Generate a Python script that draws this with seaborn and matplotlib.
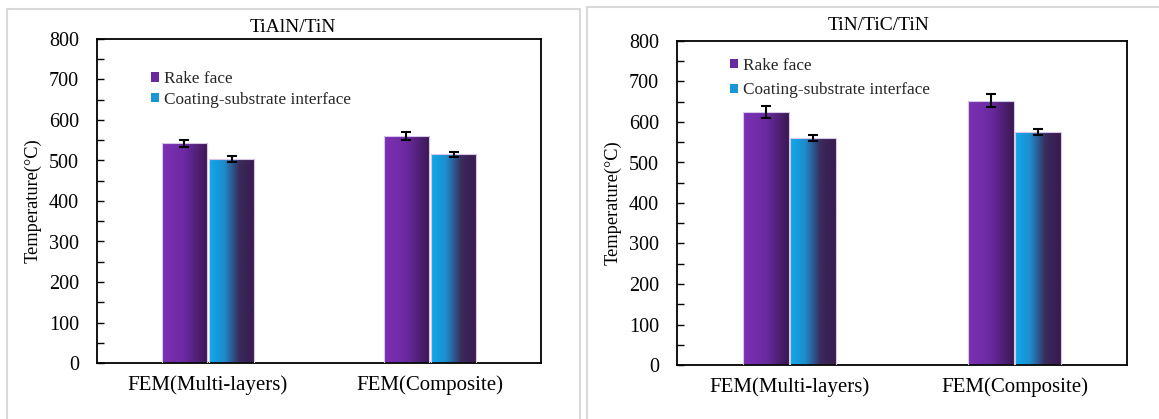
import numpy as np
import pandas as pd
import matplotlib
matplotlib.use("Agg")
import matplotlib.pyplot as plt
import seaborn as sns
from matplotlib.colors import LinearSegmentedColormap
from matplotlib.patches import Rectangle
from matplotlib.ticker import MultipleLocator

# ---------------- data ----------------
methods = ["FEM(Multi-layers)", "FEM(Composite)"]
series = ["Rake face", "Coating-substrate interface"]
titles = ["TiAlN/TiN", "TiN/TiC/TiN"]

tialn_rake = [542, 560]
tialn_rake_err = [9, 9.5]
tialn_interface = [503, 515]
tialn_interface_err = [7, 7]

titic_rake = [625, 653]
titic_rake_err = [14, 15]
titic_interface = [560, 575]
titic_interface_err = [8, 8]

y_ticks = [0, 100, 200, 300, 400, 500, 600, 700, 800]

# ---------------- style ----------------
sns.set_theme(style="white")
plt.rcParams["font.family"] = ["Liberation Serif", "DejaVu Serif"]

purple_cmap = LinearSegmentedColormap.from_list("p", ["#7d30b6", "#6a2aa0", "#3a1852"])
blue_cmap = LinearSegmentedColormap.from_list("b", ["#0eaaec", "#1e8ccc", "#3a2a5a", "#3a1a50"])
cmaps = [purple_cmap, blue_cmap]
mid_colors = ["#6a2a9e", "#1a95d6"]

fig = plt.figure(figsize=(11.59, 4.19), dpi=100)
W, H = 1159, 419

def fx(px):
    return px / W

def fy(py):
    return 1 - py / H

# panel borders
fig.patches.append(Rectangle((fx(7), fy(425)), fx(580 - 7), (425 - 9) / H,
                             transform=fig.transFigure, fill=False,
                             edgecolor="#d9d9d9", lw=1.5))
fig.patches.append(Rectangle((fx(587), fy(425)), fx(1175 - 587), (425 - 7) / H,
                             transform=fig.transFigure, fill=False,
                             edgecolor="#d9d9d9", lw=1.5))

axes_boxes = [
    (fx(97), fy(363), fx(444), 324 / H),
    (fx(677), fy(365), fx(450), 324 / H),
]
title_pos = [(fx(293), fy(27)), (fx(879), fy(25))]
legend_pos = [(0.122, 0.901), (0.118, 0.948)]
legend_spacing = [0.26, 0.49]

datasets = [
    (tialn_rake, tialn_rake_err, tialn_interface, tialn_interface_err),
    (titic_rake, titic_rake_err, titic_interface, titic_interface_err),
]

for k, (rake, rake_err, inter, inter_err) in enumerate(datasets):
    ax = fig.add_axes(axes_boxes[k])
    df = pd.DataFrame({
        "method": methods * 2,
        "series": [series[0]] * 2 + [series[1]] * 2,
        "temp": list(rake) + list(inter),
    })
    errs = {(series[0], m): e for m, e in zip(methods, rake_err)}
    errs.update({(series[1], m): e for m, e in zip(methods, inter_err)})
    vals = {(r.series, r.method): r.temp for r in df.itertuples()}

    sns.barplot(data=df, x="method", y="temp", hue="series", order=methods,
                hue_order=series, palette=mid_colors, width=0.425, gap=0.04,
                errorbar=None, legend=False, ax=ax)

    grad = np.linspace(0, 1, 256).reshape(1, -1)
    for p in list(ax.patches):
        x0 = p.get_x()
        w = p.get_width()
        h = p.get_height()
        cx = x0 + w / 2
        ci = int(round(cx))
        hi = 0 if cx < ci else 1
        im = ax.imshow(grad, cmap=cmaps[hi], aspect="auto",
                       extent=[x0, x0 + w, 0, h], zorder=2, interpolation="bilinear")
        im.set_clip_path(p)
        p.set_facecolor("none")
        p.set_edgecolor("#d6c8ea")
        p.set_linewidth(0.8)
        p.set_zorder(3)
        key = (series[hi], methods[ci])
        ax.errorbar(cx, vals[key], yerr=errs[key], fmt="none", ecolor="black",
                    elinewidth=1.5, capsize=3.5, capthick=1.5, zorder=5)

    ax.set_xlim(-0.5, 1.5)
    ax.set_ylim(0, 800)
    ax.set_yticks(y_ticks)
    ax.yaxis.set_minor_locator(MultipleLocator(50))
    ax.tick_params(axis="y", which="both", direction="in", length=5, width=1,
                   left=True, labelsize=14.5, pad=13, colors="black")
    ax.tick_params(axis="x", length=0, labelsize=15, pad=9, colors="black")
    ax.set_xlabel("")
    ax.set_ylabel("Temperature(°C)", fontsize=13.2, labelpad=5, color="black")
    for s in ax.spines.values():
        s.set_visible(True)
        s.set_color("black")
        s.set_linewidth(1.3)

    handles = [Rectangle((0, 0), 1, 1, facecolor=c, edgecolor="none") for c in mid_colors]
    ax.legend(handles, series, loc="upper left", bbox_to_anchor=legend_pos[k],
              frameon=False, fontsize=12.4, handlelength=0.45, handleheight=0.45,
              handletextpad=0.3, labelspacing=legend_spacing[k], borderpad=0,
              borderaxespad=0)

    fig.text(title_pos[k][0], title_pos[k][1], titles[k], ha="center", va="center",
             fontsize=14, color="black")

fig.savefig("out.png", dpi=100)
